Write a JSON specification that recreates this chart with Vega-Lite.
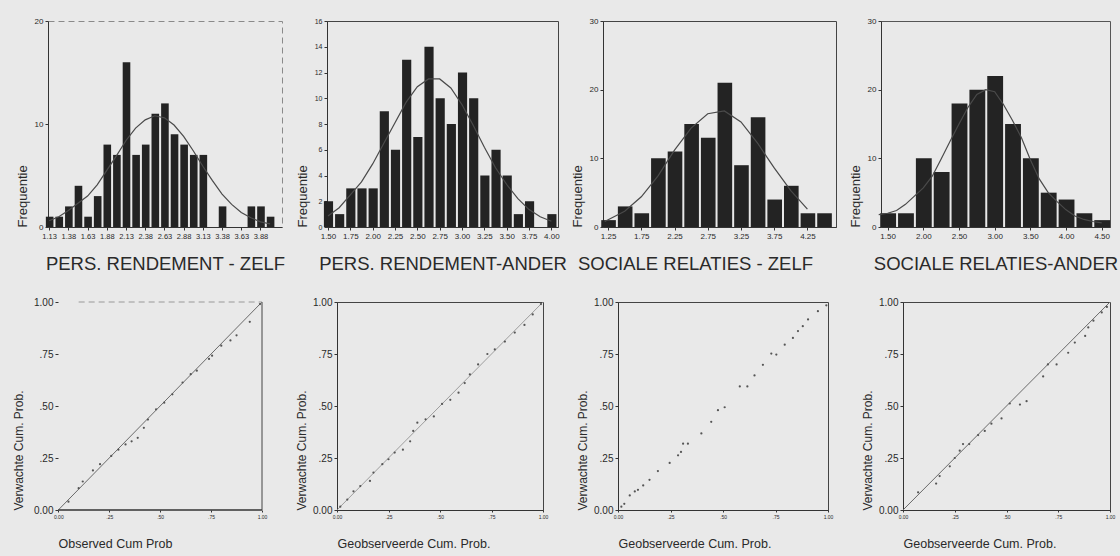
{
  "$schema": "https://vega.github.io/schema/vega-lite/v6.json",
  "background": "#e9e9e9",
  "padding": {"left": 12, "top": 16, "right": 2, "bottom": 8},
  "spacing": 22,
  "datasets": {
    "h1": [
      {"lo": 1.0625, "hi": 1.1875, "n": 1}, {"lo": 1.1875, "hi": 1.3125, "n": 1}, {"lo": 1.3125, "hi": 1.4375, "n": 2},
      {"lo": 1.4375, "hi": 1.5625, "n": 4}, {"lo": 1.5625, "hi": 1.6875, "n": 1}, {"lo": 1.6875, "hi": 1.8125, "n": 3},
      {"lo": 1.8125, "hi": 1.9375, "n": 8}, {"lo": 1.9375, "hi": 2.0625, "n": 7}, {"lo": 2.0625, "hi": 2.1875, "n": 16},
      {"lo": 2.1875, "hi": 2.3125, "n": 7}, {"lo": 2.3125, "hi": 2.4375, "n": 8}, {"lo": 2.4375, "hi": 2.5625, "n": 11},
      {"lo": 2.5625, "hi": 2.6875, "n": 12}, {"lo": 2.6875, "hi": 2.8125, "n": 9}, {"lo": 2.8125, "hi": 2.9375, "n": 8},
      {"lo": 2.9375, "hi": 3.0625, "n": 7}, {"lo": 3.0625, "hi": 3.1875, "n": 7}, {"lo": 3.3125, "hi": 3.4375, "n": 2},
      {"lo": 3.6875, "hi": 3.8125, "n": 2}, {"lo": 3.8125, "hi": 3.9375, "n": 2}, {"lo": 3.9375, "hi": 4.0625, "n": 1}
    ],
    "c1": [
      {"v": 1.125, "f": 0.6}, {"v": 1.25, "f": 1.0}, {"v": 1.375, "f": 1.6}, {"v": 1.5, "f": 2.3}, {"v": 1.625, "f": 3.0},
      {"v": 1.75, "f": 4.1}, {"v": 1.875, "f": 5.5}, {"v": 2.0, "f": 6.9}, {"v": 2.125, "f": 8.4}, {"v": 2.25, "f": 9.6},
      {"v": 2.375, "f": 10.4}, {"v": 2.5, "f": 10.8}, {"v": 2.625, "f": 10.6}, {"v": 2.75, "f": 9.9}, {"v": 2.875, "f": 8.8},
      {"v": 3.0, "f": 7.4}, {"v": 3.125, "f": 5.9}, {"v": 3.25, "f": 4.5}, {"v": 3.375, "f": 3.2}, {"v": 3.5, "f": 2.2},
      {"v": 3.625, "f": 1.4}, {"v": 3.75, "f": 0.9}, {"v": 3.875, "f": 0.5}, {"v": 4.0, "f": 0.3}
    ],
    "h2": [
      {"lo": 1.4375, "hi": 1.5625, "n": 2}, {"lo": 1.5625, "hi": 1.6875, "n": 1}, {"lo": 1.6875, "hi": 1.8125, "n": 3},
      {"lo": 1.8125, "hi": 1.9375, "n": 3}, {"lo": 1.9375, "hi": 2.0625, "n": 3}, {"lo": 2.0625, "hi": 2.1875, "n": 9},
      {"lo": 2.1875, "hi": 2.3125, "n": 6}, {"lo": 2.3125, "hi": 2.4375, "n": 13}, {"lo": 2.4375, "hi": 2.5625, "n": 7},
      {"lo": 2.5625, "hi": 2.6875, "n": 14}, {"lo": 2.6875, "hi": 2.8125, "n": 10}, {"lo": 2.8125, "hi": 2.9375, "n": 8},
      {"lo": 2.9375, "hi": 3.0625, "n": 12}, {"lo": 3.0625, "hi": 3.1875, "n": 10}, {"lo": 3.1875, "hi": 3.3125, "n": 4},
      {"lo": 3.3125, "hi": 3.4375, "n": 6}, {"lo": 3.4375, "hi": 3.5625, "n": 4}, {"lo": 3.5625, "hi": 3.6875, "n": 1},
      {"lo": 3.6875, "hi": 3.8125, "n": 2}, {"lo": 3.9375, "hi": 4.0625, "n": 1}
    ],
    "c2": [
      {"v": 1.5, "f": 0.85}, {"v": 1.625, "f": 1.5}, {"v": 1.75, "f": 2.5}, {"v": 1.875, "f": 3.5}, {"v": 2.0, "f": 4.9},
      {"v": 2.125, "f": 6.5}, {"v": 2.25, "f": 8.1}, {"v": 2.375, "f": 9.7}, {"v": 2.5, "f": 10.9}, {"v": 2.625, "f": 11.5},
      {"v": 2.75, "f": 11.5}, {"v": 2.875, "f": 10.8}, {"v": 3.0, "f": 9.5}, {"v": 3.125, "f": 7.9}, {"v": 3.25, "f": 6.2},
      {"v": 3.375, "f": 4.6}, {"v": 3.5, "f": 3.3}, {"v": 3.625, "f": 2.2}, {"v": 3.75, "f": 1.35}, {"v": 3.875, "f": 0.8},
      {"v": 4.0, "f": 0.45}
    ],
    "h3": [
      {"lo": 1.125, "hi": 1.375, "n": 1}, {"lo": 1.375, "hi": 1.625, "n": 3}, {"lo": 1.625, "hi": 1.875, "n": 2},
      {"lo": 1.875, "hi": 2.125, "n": 10}, {"lo": 2.125, "hi": 2.375, "n": 11}, {"lo": 2.375, "hi": 2.625, "n": 15},
      {"lo": 2.625, "hi": 2.875, "n": 13}, {"lo": 2.875, "hi": 3.125, "n": 21}, {"lo": 3.125, "hi": 3.375, "n": 9},
      {"lo": 3.375, "hi": 3.625, "n": 16}, {"lo": 3.625, "hi": 3.875, "n": 4}, {"lo": 3.875, "hi": 4.125, "n": 6},
      {"lo": 4.125, "hi": 4.375, "n": 2}, {"lo": 4.375, "hi": 4.625, "n": 2}
    ],
    "c3": [
      {"v": 1.2, "f": 0.8}, {"v": 1.5, "f": 2.3}, {"v": 1.75, "f": 4.4}, {"v": 2.0, "f": 7.4}, {"v": 2.25, "f": 11.2},
      {"v": 2.5, "f": 14.4}, {"v": 2.75, "f": 16.5}, {"v": 3.0, "f": 16.9}, {"v": 3.25, "f": 15.3}, {"v": 3.5, "f": 12.2},
      {"v": 3.75, "f": 8.6}, {"v": 4.0, "f": 5.3}, {"v": 4.25, "f": 2.6}
    ],
    "h4": [
      {"lo": 1.375, "hi": 1.625, "n": 2}, {"lo": 1.625, "hi": 1.875, "n": 2}, {"lo": 1.875, "hi": 2.125, "n": 10},
      {"lo": 2.125, "hi": 2.375, "n": 8}, {"lo": 2.375, "hi": 2.625, "n": 18}, {"lo": 2.625, "hi": 2.875, "n": 20},
      {"lo": 2.875, "hi": 3.125, "n": 22}, {"lo": 3.125, "hi": 3.375, "n": 15}, {"lo": 3.375, "hi": 3.625, "n": 10},
      {"lo": 3.625, "hi": 3.875, "n": 5}, {"lo": 3.875, "hi": 4.125, "n": 4}, {"lo": 4.125, "hi": 4.375, "n": 2},
      {"lo": 4.375, "hi": 4.625, "n": 1}
    ],
    "c4": [
      {"v": 1.375, "f": 1.8}, {"v": 1.5, "f": 2.0}, {"v": 1.625, "f": 2.4}, {"v": 1.75, "f": 3.3}, {"v": 1.875, "f": 4.5},
      {"v": 2.0, "f": 5.7}, {"v": 2.125, "f": 7.4}, {"v": 2.25, "f": 9.9}, {"v": 2.375, "f": 12.5}, {"v": 2.5, "f": 15.0},
      {"v": 2.625, "f": 17.4}, {"v": 2.75, "f": 19.3}, {"v": 2.875, "f": 20.0}, {"v": 3.0, "f": 19.7}, {"v": 3.125, "f": 17.8},
      {"v": 3.25, "f": 15.5}, {"v": 3.375, "f": 13.0}, {"v": 3.5, "f": 9.8}, {"v": 3.625, "f": 7.0}, {"v": 3.75, "f": 5.0},
      {"v": 3.875, "f": 3.7}, {"v": 4.0, "f": 2.5}, {"v": 4.125, "f": 1.6}, {"v": 4.25, "f": 1.1}, {"v": 4.375, "f": 0.8},
      {"v": 4.5, "f": 0.6}
    ],
    "p1": [
      {"o": 0.05, "e": 0.04}, {"o": 0.1, "e": 0.105}, {"o": 0.12, "e": 0.137}, {"o": 0.17, "e": 0.19}, {"o": 0.205, "e": 0.22},
      {"o": 0.26, "e": 0.26}, {"o": 0.295, "e": 0.29}, {"o": 0.33, "e": 0.315}, {"o": 0.36, "e": 0.33}, {"o": 0.39, "e": 0.347},
      {"o": 0.42, "e": 0.395}, {"o": 0.44, "e": 0.435}, {"o": 0.48, "e": 0.484}, {"o": 0.52, "e": 0.516}, {"o": 0.56, "e": 0.556},
      {"o": 0.61, "e": 0.613}, {"o": 0.65, "e": 0.653}, {"o": 0.68, "e": 0.67}, {"o": 0.74, "e": 0.726}, {"o": 0.755, "e": 0.742},
      {"o": 0.8, "e": 0.79}, {"o": 0.845, "e": 0.815}, {"o": 0.875, "e": 0.84}, {"o": 0.94, "e": 0.905}, {"o": 0.99, "e": 0.99}
    ],
    "p2": [
      {"o": 0.016, "e": 0.016}, {"o": 0.05, "e": 0.05}, {"o": 0.08, "e": 0.09}, {"o": 0.113, "e": 0.115}, {"o": 0.16, "e": 0.14},
      {"o": 0.177, "e": 0.18}, {"o": 0.22, "e": 0.22}, {"o": 0.25, "e": 0.244}, {"o": 0.28, "e": 0.276}, {"o": 0.32, "e": 0.29},
      {"o": 0.355, "e": 0.33}, {"o": 0.37, "e": 0.38}, {"o": 0.39, "e": 0.42}, {"o": 0.43, "e": 0.436}, {"o": 0.47, "e": 0.45},
      {"o": 0.51, "e": 0.51}, {"o": 0.55, "e": 0.53}, {"o": 0.59, "e": 0.564}, {"o": 0.62, "e": 0.61}, {"o": 0.645, "e": 0.652},
      {"o": 0.685, "e": 0.7}, {"o": 0.73, "e": 0.75}, {"o": 0.766, "e": 0.772}, {"o": 0.815, "e": 0.81}, {"o": 0.863, "e": 0.853},
      {"o": 0.91, "e": 0.89}, {"o": 0.95, "e": 0.94}, {"o": 0.99, "e": 0.99}
    ],
    "p3": [
      {"o": 0.016, "e": 0.016}, {"o": 0.03, "e": 0.03}, {"o": 0.056, "e": 0.07}, {"o": 0.08, "e": 0.089}, {"o": 0.095, "e": 0.097},
      {"o": 0.12, "e": 0.118}, {"o": 0.15, "e": 0.145}, {"o": 0.19, "e": 0.187}, {"o": 0.246, "e": 0.226}, {"o": 0.286, "e": 0.263},
      {"o": 0.3, "e": 0.279}, {"o": 0.31, "e": 0.319}, {"o": 0.333, "e": 0.319}, {"o": 0.397, "e": 0.368}, {"o": 0.444, "e": 0.424},
      {"o": 0.476, "e": 0.48}, {"o": 0.508, "e": 0.494}, {"o": 0.58, "e": 0.594}, {"o": 0.616, "e": 0.594}, {"o": 0.65, "e": 0.647},
      {"o": 0.69, "e": 0.698}, {"o": 0.73, "e": 0.752}, {"o": 0.754, "e": 0.747}, {"o": 0.794, "e": 0.795}, {"o": 0.833, "e": 0.827},
      {"o": 0.857, "e": 0.86}, {"o": 0.88, "e": 0.884}, {"o": 0.905, "e": 0.916}, {"o": 0.952, "e": 0.956}, {"o": 0.992, "e": 0.984}
    ],
    "p4": [
      {"o": 0.073, "e": 0.085}, {"o": 0.16, "e": 0.127}, {"o": 0.177, "e": 0.163}, {"o": 0.226, "e": 0.21}, {"o": 0.25, "e": 0.25},
      {"o": 0.274, "e": 0.285}, {"o": 0.29, "e": 0.317}, {"o": 0.32, "e": 0.317}, {"o": 0.363, "e": 0.36}, {"o": 0.395, "e": 0.38},
      {"o": 0.427, "e": 0.415}, {"o": 0.476, "e": 0.44}, {"o": 0.516, "e": 0.512}, {"o": 0.565, "e": 0.507}, {"o": 0.597, "e": 0.523},
      {"o": 0.677, "e": 0.642}, {"o": 0.7, "e": 0.7}, {"o": 0.742, "e": 0.7}, {"o": 0.798, "e": 0.756}, {"o": 0.83, "e": 0.805},
      {"o": 0.88, "e": 0.837}, {"o": 0.895, "e": 0.878}, {"o": 0.92, "e": 0.91}, {"o": 0.96, "e": 0.95}, {"o": 0.985, "e": 0.976}
    ],
    "diag": [{"o": 0, "e": 0}, {"o": 1, "e": 1}],
    "one": [{}]
  },
  "vconcat": [
    {
      "bounds": "flush",
      "spacing": 45,
      "hconcat": [
        {
          "width": 234, "height": 206,
          "view": {"stroke": "#8a8a8a", "strokeDash": [6, 4]},
          "layer": [
            {
              "data": {"name": "h1"},
              "mark": {"type": "bar", "color": "#232323"},
              "encoding": {
                "x": {"field": "lo", "type": "quantitative", "bin": {"binned": true},
                  "scale": {"domain": [1.11, 4.155], "nice": false, "zero": false},
                  "axis": {"values": [1.125, 1.375, 1.625, 1.875, 2.125, 2.375, 2.625, 2.875, 3.125, 3.375, 3.625, 3.875], "format": ".2f", "labelFontSize": 7.5, "labelOverlap": false, "labelFlush": false, "title": "PERS. RENDEMENT - ZELF"}},
                "x2": {"field": "hi"},
                "y": {"field": "n", "type": "quantitative", "scale": {"domain": [0, 20], "nice": false},
                  "axis": {"values": [0, 10, 20], "labelOverlap": false, "title": "Frequentie"}}
              }
            },
            {
              "data": {"name": "c1"},
              "mark": {"type": "line", "color": "#4a4a4a", "strokeWidth": 1.2},
              "encoding": {
                "x": {"field": "v", "type": "quantitative",
                  "axis": {"values": [1.125, 1.375, 1.625, 1.875, 2.125, 2.375, 2.625, 2.875, 3.125, 3.375, 3.625, 3.875], "format": ".2f", "labelFontSize": 7.5, "labelOverlap": false, "labelFlush": false, "title": "PERS. RENDEMENT - ZELF"}},
                "y": {"field": "f", "type": "quantitative", "axis": {"values": [0, 10, 20], "labelOverlap": false, "title": "Frequentie"}}
              }
            }
          ]
        },
        {
          "width": 231, "height": 206,
          "layer": [
            {
              "data": {"name": "h2"},
              "mark": {"type": "bar", "color": "#232323"},
              "encoding": {
                "x": {"field": "lo", "type": "quantitative", "bin": {"binned": true},
                  "scale": {"domain": [1.489, 4.074], "nice": false, "zero": false},
                  "axis": {"values": [1.5, 1.75, 2.0, 2.25, 2.5, 2.75, 3.0, 3.25, 3.5, 3.75, 4.0], "format": ".2f", "labelOverlap": false, "labelFlush": false, "title": "PERS. RENDEMENT-ANDER"}},
                "x2": {"field": "hi"},
                "y": {"field": "n", "type": "quantitative", "scale": {"domain": [0, 16], "nice": false},
                  "axis": {"values": [0, 2, 4, 6, 8, 10, 12, 14, 16], "labelOverlap": false, "title": "Frequentie", "labelFontSize": 7}}
              }
            },
            {
              "data": {"name": "c2"},
              "mark": {"type": "line", "color": "#4a4a4a", "strokeWidth": 1.2},
              "encoding": {
                "x": {"field": "v", "type": "quantitative",
                  "axis": {"values": [1.5, 1.75, 2.0, 2.25, 2.5, 2.75, 3.0, 3.25, 3.5, 3.75, 4.0], "format": ".2f", "labelOverlap": false, "labelFlush": false, "title": "PERS. RENDEMENT-ANDER"}},
                "y": {"field": "f", "type": "quantitative", "axis": {"values": [0, 2, 4, 6, 8, 10, 12, 14, 16], "labelOverlap": false, "title": "Frequentie", "labelFontSize": 7}}
              }
            }
          ]
        },
        {
          "width": 233, "height": 206,
          "layer": [
            {
              "data": {"name": "h3"},
              "mark": {"type": "bar", "color": "#232323"},
              "encoding": {
                "x": {"field": "lo", "type": "quantitative", "bin": {"binned": true},
                  "scale": {"domain": [1.174, 4.68], "nice": false, "zero": false},
                  "axis": {"values": [1.25, 1.75, 2.25, 2.75, 3.25, 3.75, 4.25], "format": ".2f", "labelOverlap": false, "labelFlush": false, "title": "SOCIALE RELATIES - ZELF", "titleX": 92}},
                "x2": {"field": "hi"},
                "y": {"field": "n", "type": "quantitative", "scale": {"domain": [0, 30], "nice": false},
                  "axis": {"values": [0, 10, 20, 30], "labelOverlap": false, "title": "Frequentie"}}
              }
            },
            {
              "data": {"name": "c3"},
              "mark": {"type": "line", "color": "#4a4a4a", "strokeWidth": 1.2},
              "encoding": {
                "x": {"field": "v", "type": "quantitative",
                  "axis": {"values": [1.25, 1.75, 2.25, 2.75, 3.25, 3.75, 4.25], "format": ".2f", "labelOverlap": false, "labelFlush": false, "title": "SOCIALE RELATIES - ZELF", "titleX": 92}},
                "y": {"field": "f", "type": "quantitative", "axis": {"values": [0, 10, 20, 30], "labelOverlap": false, "title": "Frequentie"}}
              }
            }
          ]
        },
        {
          "width": 229, "height": 206,
          "view": {"stroke": "#555"},
          "layer": [
            {
              "data": {"name": "h4"},
              "mark": {"type": "bar", "color": "#232323"},
              "encoding": {
                "x": {"field": "lo", "type": "quantitative", "bin": {"binned": true},
                  "scale": {"domain": [1.407, 4.616], "nice": false, "zero": false},
                  "axis": {"values": [1.5, 2.0, 2.5, 3.0, 3.5, 4.0, 4.5], "format": ".2f", "labelOverlap": false, "labelFlush": false, "title": "SOCIALE RELATIES-ANDER"}},
                "x2": {"field": "hi"},
                "y": {"field": "n", "type": "quantitative", "scale": {"domain": [0, 30], "nice": false},
                  "axis": {"values": [0, 10, 20, 30], "labelOverlap": false, "title": "Frequentie"}}
              }
            },
            {
              "data": {"name": "c4"},
              "mark": {"type": "line", "color": "#4a4a4a", "strokeWidth": 1.2},
              "encoding": {
                "x": {"field": "v", "type": "quantitative",
                  "axis": {"values": [1.5, 2.0, 2.5, 3.0, 3.5, 4.0, 4.5], "format": ".2f", "labelOverlap": false, "labelFlush": false, "title": "SOCIALE RELATIES-ANDER"}},
                "y": {"field": "f", "type": "quantitative", "axis": {"values": [0, 10, 20, 30], "labelOverlap": false, "title": "Frequentie"}}
              }
            }
          ]
        }
      ]
    },
    {
      "bounds": "flush",
      "spacing": 75,
      "hconcat": [
        {
          "width": 214, "height": 208,
          "view": {"stroke": null},
          "layer": [
            {
              "data": {"name": "diag"},
              "mark": {"type": "line", "color": "#6a6a6a", "strokeWidth": 1},
              "encoding": {
                "x": {"field": "o", "type": "quantitative", "scale": {"domain": [-0.0505, 1], "nice": false, "zero": false},
                  "axis": {"values": [0, 0.25, 0.5, 0.75, 1], "labelExpr": "datum.value == 0 ? '0.00' : datum.value == 1 ? '1.00' : slice(format(datum.value, '.2f'), 1)", "labelFontSize": 5, "tickSize": 2, "labelOverlap": false, "domain": false, "title": "Observed Cum Prob", "titleX": 10, "titleAlign": "left", "titleFontSize": 12.5, "titlePadding": 18}},
                "y": {"field": "e", "type": "quantitative", "scale": {"domain": [0, 1], "nice": false},
                  "axis": {"values": [0, 0.25, 0.5, 0.75, 1], "labelExpr": "datum.value == 0 ? '0.00' : datum.value == 1 ? '1.00' : slice(format(datum.value, '.2f'), 1)", "labelFontSize": 10, "labelOverlap": false, "offset": -10, "title": "Verwachte Cum. Prob.", "titleFontSize": 12, "titlePadding": 8, "domain": false}}
              }
            },
            {
              "data": {"name": "one"},
              "mark": {"type": "rule", "color": "#333", "strokeWidth": 1.5},
              "encoding": {"x": {"datum": 0}, "x2": {"datum": 1}, "y": {"datum": 0}}
            },
            {
              "data": {"name": "one"},
              "mark": {"type": "rule", "color": "#444", "strokeWidth": 1},
              "encoding": {"x": {"datum": 1}, "y": {"datum": 0}, "y2": {"datum": 1}}
            },
            {
              "data": {"name": "one"},
              "mark": {"type": "rule", "color": "#999", "strokeWidth": 1, "strokeDash": [6, 4]},
              "encoding": {"x": {"datum": 0.1}, "x2": {"datum": 1}, "y": {"datum": 1}}
            },
            {
              "data": {"name": "p1"},
              "mark": {"type": "circle", "color": "#555", "size": 5, "opacity": 1},
              "encoding": {"x": {"field": "o", "type": "quantitative"}, "y": {"field": "e", "type": "quantitative"}}
            }
          ]
        },
        {
          "width": 206, "height": 208,
          "layer": [
            {
              "data": {"name": "diag"},
              "mark": {"type": "line", "color": "#8a8a8a", "strokeWidth": 0.8},
              "encoding": {
                "x": {"field": "o", "type": "quantitative", "scale": {"domain": [0, 1], "nice": false},
                  "axis": {"values": [0, 0.25, 0.5, 0.75, 1], "labelExpr": "datum.value == 0 ? '0.00' : datum.value == 1 ? '1.00' : slice(format(datum.value, '.2f'), 1)", "labelFontSize": 5, "tickSize": 2, "labelOverlap": false, "title": "Geobserveerde Cum. Prob.", "titleAnchor": "start", "titleFontSize": 12.5, "titlePadding": 18}},
                "y": {"field": "e", "type": "quantitative", "scale": {"domain": [0, 1], "nice": false},
                  "axis": {"values": [0, 0.25, 0.5, 0.75, 1], "labelExpr": "datum.value == 0 ? '0.00' : datum.value == 1 ? '1.00' : slice(format(datum.value, '.2f'), 1)", "labelFontSize": 10, "labelOverlap": false, "title": "Verwachte Cum. Prob.", "titleFontSize": 12, "titlePadding": 4}}
              }
            },
            {
              "data": {"name": "p2"},
              "mark": {"type": "circle", "color": "#555", "size": 5, "opacity": 1},
              "encoding": {"x": {"field": "o", "type": "quantitative"}, "y": {"field": "e", "type": "quantitative"}}
            }
          ]
        },
        {
          "width": 210, "height": 208,
          "data": {"name": "p3"},
          "mark": {"type": "circle", "color": "#555", "size": 5, "opacity": 1},
          "encoding": {
            "x": {"field": "o", "type": "quantitative", "scale": {"domain": [0, 1], "nice": false},
              "axis": {"values": [0, 0.25, 0.5, 0.75, 1], "labelExpr": "datum.value == 0 ? '0.00' : datum.value == 1 ? '1.00' : slice(format(datum.value, '.2f'), 1)", "labelFontSize": 5, "tickSize": 2, "labelOverlap": false, "title": "Geobserveerde Cum. Prob.", "titleAnchor": "start", "titleFontSize": 12.5, "titlePadding": 18}},
            "y": {"field": "e", "type": "quantitative", "scale": {"domain": [0, 1], "nice": false},
              "axis": {"values": [0, 0.25, 0.5, 0.75, 1], "labelExpr": "datum.value == 0 ? '0.00' : datum.value == 1 ? '1.00' : slice(format(datum.value, '.2f'), 1)", "labelFontSize": 10, "labelOverlap": false, "title": "Verwachte Cum. Prob.", "titleFontSize": 12, "titlePadding": 4}}
          }
        },
        {
          "width": 207, "height": 208,
          "layer": [
            {
              "data": {"name": "diag"},
              "mark": {"type": "line", "color": "#6a6a6a", "strokeWidth": 1},
              "encoding": {
                "x": {"field": "o", "type": "quantitative", "scale": {"domain": [0, 1], "nice": false},
                  "axis": {"values": [0, 0.25, 0.5, 0.75, 1], "labelExpr": "datum.value == 0 ? '0.00' : datum.value == 1 ? '1.00' : slice(format(datum.value, '.2f'), 1)", "labelFontSize": 5, "tickSize": 2, "labelOverlap": false, "title": "Geobserveerde Cum. Prob.", "titleAnchor": "start", "titleFontSize": 12.5, "titlePadding": 18}},
                "y": {"field": "e", "type": "quantitative", "scale": {"domain": [0, 1], "nice": false},
                  "axis": {"values": [0, 0.25, 0.5, 0.75, 1], "labelExpr": "datum.value == 0 ? '0.00' : datum.value == 1 ? '1.00' : slice(format(datum.value, '.2f'), 1)", "labelFontSize": 10, "labelOverlap": false, "title": "Verwachte Cum. Prob.", "titleFontSize": 12, "titlePadding": 4}}
              }
            },
            {
              "data": {"name": "p4"},
              "mark": {"type": "circle", "color": "#555", "size": 5, "opacity": 1},
              "encoding": {"x": {"field": "o", "type": "quantitative"}, "y": {"field": "e", "type": "quantitative"}}
            }
          ]
        }
      ]
    }
  ],
  "config": {
    "font": "Liberation Sans",
    "view": {"stroke": "#444", "strokeWidth": 1},
    "bar": {"binSpacing": 2},
    "axis": {
      "grid": false,
      "domainColor": "#333",
      "tickColor": "#333",
      "labelColor": "#2a2a2a",
      "titleColor": "#2a2a2a",
      "titleFontWeight": "normal",
      "labelFont": "Liberation Sans",
      "titleFont": "Liberation Sans",
      "tickSize": 3,
      "labelPadding": 2,
      "labelFlush": false,
      "labelOverlap": false
    },
    "axisX": {"labelFontSize": 8, "titleFontSize": 18.5, "titlePadding": 14.5},
    "axisY": {"labelFontSize": 8, "titleFontSize": 13, "titlePadding": 5, "titleAnchor": "start"}
  }
}
